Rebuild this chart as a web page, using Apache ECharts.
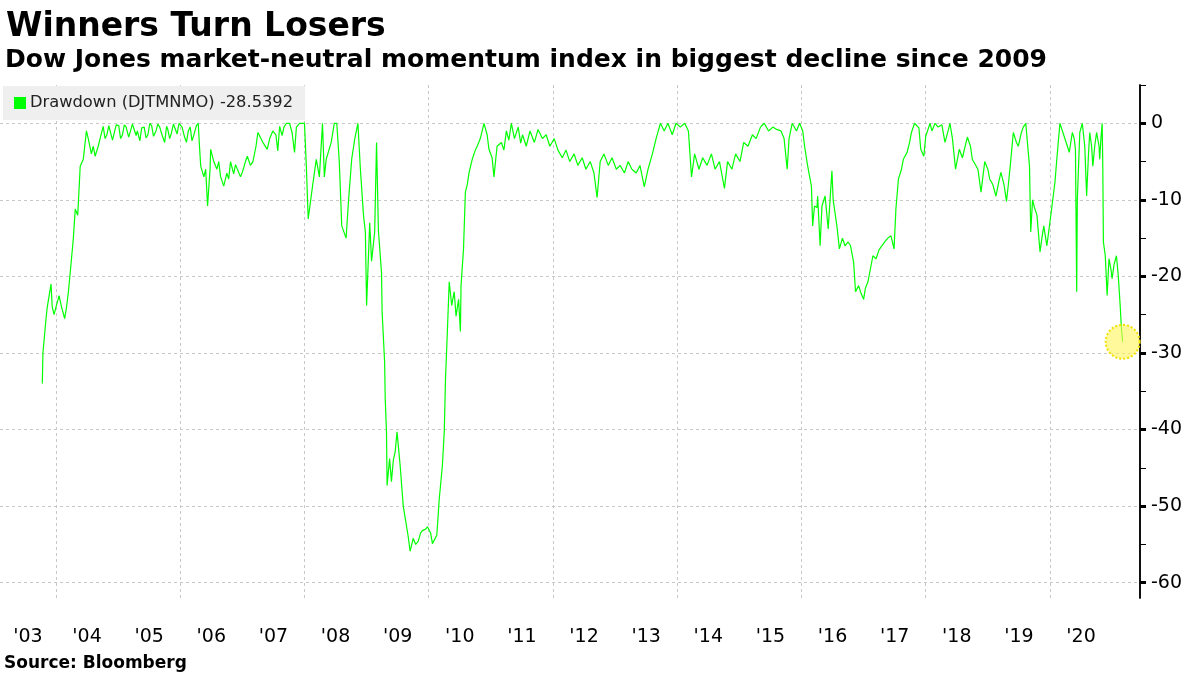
<!DOCTYPE html>
<html>
<head>
<meta charset="utf-8">
<script src="https://cdn.jsdelivr.net/npm/echarts@6/dist/echarts.min.js"></script>
<style>
html,body{margin:0;padding:0;background:#ffffff;}
#chart{width:1200px;height:675px;}
</style>
</head>
<body>
<div id="chart"></div>
<script>
// ---- text ----
const titleText = 'Winners Turn Losers';
const subtitleText = 'Dow Jones market-neutral momentum index in biggest decline since 2009';
const sourceText = 'Source: Bloomberg';
const seriesName = 'Drawdown (DJTMNMO)';
const lastValueText = '-28.5392';

// ---- axes ----
const xMin = 2003.099;
const xMax = 2021.449;
const labelYears = [2003,2004,2005,2006,2007,2008,2009,2010,2011,2012,2013,2014,2015,2016,2017,2018,2019,2020];
const gridYears = [2004,2006,2008,2010,2012,2014,2016,2018,2020];
const yMin = -62, yMax = 5;
const yMajorTicks = [0,-10,-20,-30,-40,-50,-60];
const yMinorTicks = [5,-5,-15,-25,-35,-45,-55];

// ---- data: [decimal year, drawdown %] ----
const drawdown = [
[2003.78,-34],[2003.79,-30],[2003.84,-25.5],[2003.86,-24],[2003.92,-21],[2003.94,-24],[2003.97,-25],
[2004.00,-24],[2004.05,-22.5],[2004.09,-24],[2004.14,-25.5],[2004.17,-24],[2004.20,-22],[2004.25,-17.7],[2004.28,-15],[2004.31,-11.2],[2004.35,-12],[2004.39,-5.6],[2004.44,-4.7],[2004.49,-1],[2004.52,-2],[2004.57,-4],[2004.60,-3],[2004.63,-4.3],[2004.68,-3],[2004.71,-2],[2004.76,-0.4],[2004.79,-2],[2004.82,-1.5],[2004.85,-0.3],[2004.88,-0.5],[2004.91,-2.2],[2004.94,-1.2],[2004.97,-0.2],
[2005.01,-0.3],[2005.04,-2],[2005.07,-1.5],[2005.10,-0.2],[2005.13,-0.5],[2005.17,-1.8],[2005.20,-1],[2005.23,-0.1],[2005.26,-0.2],[2005.29,-1.6],[2005.31,-1],[2005.35,-2.3],[2005.38,-0.6],[2005.42,-0.5],[2005.45,-1.9],[2005.48,-1.5],[2005.51,0],[2005.54,-0.3],[2005.57,-1.7],[2005.61,-1],[2005.64,-0.1],[2005.67,-0.5],[2005.71,-1.6],[2005.75,-2.5],[2005.78,-0.4],[2005.80,-0.8],[2005.83,-2],[2005.86,-1.2],[2005.89,-0.1],[2005.92,-0.3],[2005.95,-1.4],[2005.98,0],
[2006.03,-0.5],[2006.07,-1.8],[2006.10,-2.5],[2006.13,-1],[2006.16,-0.5],[2006.19,-2.3],[2006.22,-1.5],[2006.26,-0.3],[2006.29,0],[2006.31,-3],[2006.33,-5.6],[2006.38,-7],[2006.41,-6],[2006.44,-10.8],[2006.48,-6],[2006.49,-3.4],[2006.54,-5],[2006.59,-6],[2006.62,-5],[2006.65,-7],[2006.70,-8.2],[2006.75,-6.5],[2006.78,-7.3],[2006.81,-5],[2006.86,-6.6],[2006.89,-5.4],[2006.92,-6],[2006.97,-7],
[2007.00,-6.4],[2007.05,-5],[2007.08,-4.3],[2007.13,-5.5],[2007.17,-5],[2007.22,-3],[2007.25,-1.2],[2007.30,-2],[2007.33,-2.5],[2007.40,-3.4],[2007.44,-2],[2007.49,-1],[2007.54,-1.5],[2007.57,-3.6],[2007.60,-0.4],[2007.64,-1.6],[2007.67,-0.5],[2007.71,0],[2007.76,0],[2007.80,-1.2],[2007.84,-3.8],[2007.87,-0.5],[2007.92,0],
[2008.00,0],[2008.03,-5.6],[2008.06,-12.5],[2008.13,-8.2],[2008.19,-4.7],[2008.24,-7],[2008.29,0],[2008.32,-7],[2008.35,-4.7],[2008.43,-2.5],[2008.48,0],[2008.52,0],[2008.56,-5],[2008.60,-13.4],[2008.67,-15],[2008.71,-10],[2008.76,-4.7],[2008.81,-2],[2008.86,0],[2008.90,-6],[2008.95,-12],[2008.98,-14.2],
[2009.00,-23.8],[2009.05,-13],[2009.08,-18],[2009.13,-14.2],[2009.16,-2.5],[2009.19,-14],[2009.24,-19.5],[2009.25,-24.7],[2009.29,-31.2],[2009.30,-36],[2009.32,-40.3],[2009.33,-47.3],[2009.37,-43.8],[2009.40,-46.8],[2009.43,-44],[2009.46,-42.9],[2009.49,-40.3],[2009.54,-44.7],[2009.59,-50],[2009.63,-52],[2009.67,-54],[2009.70,-55.9],[2009.75,-54.2],[2009.79,-55],[2009.83,-54.6],[2009.87,-53.5],[2009.90,-53.2],[2009.95,-53],[2009.98,-52.7],
[2010.03,-53.5],[2010.06,-54.9],[2010.13,-53.8],[2010.17,-49],[2010.22,-44.7],[2010.25,-40.3],[2010.27,-33.4],[2010.30,-27.2],[2010.33,-20.7],[2010.37,-23.8],[2010.41,-22],[2010.44,-25.2],[2010.48,-23],[2010.51,-27.2],[2010.52,-21.2],[2010.56,-16.4],[2010.59,-9],[2010.62,-8],[2010.65,-6.4],[2010.70,-4.7],[2010.75,-3.5],[2010.78,-3],[2010.83,-2],[2010.89,0],[2010.94,-1.5],[2010.97,-3.4],
[2011.02,-4.5],[2011.05,-7],[2011.10,-3],[2011.17,-2.5],[2011.21,-3.5],[2011.25,-1],[2011.29,-2.2],[2011.33,0],[2011.38,-2],[2011.44,-0.5],[2011.48,-2.6],[2011.51,-1.5],[2011.57,-3],[2011.63,-1],[2011.70,-2.5],[2011.76,-0.8],[2011.83,-2],[2011.89,-1.5],[2011.95,-3],
[2012.02,-2],[2012.08,-3.5],[2012.15,-4.5],[2012.21,-3.5],[2012.27,-5],[2012.34,-4],[2012.40,-5.5],[2012.47,-4.5],[2012.53,-6],[2012.60,-5],[2012.66,-6.5],[2012.71,-9.7],[2012.76,-5],[2012.82,-4],[2012.89,-5.5],[2012.95,-4.5],
[2013.02,-6],[2013.08,-5.5],[2013.15,-6.5],[2013.21,-5],[2013.27,-6],[2013.34,-6.5],[2013.40,-5.5],[2013.47,-8.3],[2013.53,-6],[2013.60,-4],[2013.66,-2],[2013.73,0],[2013.79,-1],[2013.85,0],[2013.92,-1.5],[2013.98,0],
[2014.05,-0.5],[2014.12,0],[2014.18,-1],[2014.23,-7],[2014.28,-4],[2014.35,-6],[2014.41,-4.5],[2014.48,-5.5],[2014.55,-4],[2014.61,-6],[2014.68,-5],[2014.76,-8.5],[2014.81,-5],[2014.88,-6],[2014.94,-4],
[2015.01,-5],[2015.07,-2.5],[2015.14,-3],[2015.21,-1.5],[2015.27,-2],[2015.34,-0.5],[2015.40,0],[2015.47,-1],[2015.54,-0.5],[2015.60,-0.8],[2015.67,-1],[2015.72,-2],[2015.77,-6],[2015.80,-2],[2015.85,0],[2015.92,-1],[2015.97,0],
[2016.02,-1],[2016.05,-3],[2016.10,-5.6],[2016.16,-8.2],[2016.18,-13.4],[2016.21,-10.8],[2016.25,-11],[2016.26,-9.5],[2016.30,-16],[2016.33,-10.8],[2016.38,-9.5],[2016.43,-13.8],[2016.46,-10],[2016.49,-6.2],[2016.51,-10],[2016.57,-13.4],[2016.61,-16.4],[2016.66,-15],[2016.70,-16],[2016.75,-15.5],[2016.79,-16],[2016.84,-18.2],[2016.87,-22],[2016.92,-21.2],[2016.95,-22],
[2017.00,-23],[2017.03,-21.5],[2017.07,-20.7],[2017.11,-19],[2017.15,-17.3],[2017.20,-17.7],[2017.25,-16.5],[2017.28,-16.4],[2017.34,-15.5],[2017.39,-15],[2017.44,-14.7],[2017.49,-16.4],[2017.52,-11.2],[2017.56,-7.3],[2017.61,-6],[2017.64,-4.7],[2017.70,-3.8],[2017.74,-2.5],[2017.77,-1.2],[2017.82,0],[2017.89,-0.6],[2017.92,-3.4],[2017.97,-4.3],
[2018.00,-1.7],[2018.07,0],[2018.10,-1],[2018.15,0],[2018.20,-0.5],[2018.26,-0.2],[2018.31,-2.5],[2018.36,-1],[2018.39,0],[2018.43,-2],[2018.48,-6],[2018.54,-3.4],[2018.59,-4.5],[2018.62,-4.3],[2018.67,-1.8],[2018.72,-3],[2018.75,-4.7],[2018.84,-6],[2018.89,-9],[2018.95,-5],
[2019.00,-6],[2019.03,-7.3],[2019.08,-8],[2019.13,-9.5],[2019.18,-7.5],[2019.21,-6.4],[2019.26,-8],[2019.30,-10.2],[2019.33,-8],[2019.36,-5.6],[2019.41,-1.2],[2019.46,-2.5],[2019.49,-3],[2019.54,-1.2],[2019.57,-0.5],[2019.61,0],[2019.64,0],[2019.67,-5.6],[2019.69,-14.2],[2019.72,-10],[2019.75,-11],[2019.79,-12],[2019.84,-16.8],[2019.87,-15],[2019.90,-13.4],[2019.95,-16],
[2020.02,-11.6],[2020.08,-7.7],[2020.11,-4.7],[2020.16,0],[2020.20,-1],[2020.23,-1.2],[2020.28,-3],[2020.31,-3.8],[2020.36,-1.2],[2020.39,-2],[2020.41,-3.4],[2020.43,-22],[2020.44,-10],[2020.48,-1.2],[2020.52,0],[2020.56,-3],[2020.59,-9.5],[2020.62,-4],[2020.64,-1.2],[2020.67,-3],[2020.69,-5.6],[2020.72,-3],[2020.75,-1.2],[2020.79,-3],[2020.80,-4.7],[2020.82,-2],[2020.84,0],[2020.85,-5.6],[2020.86,-15.5],[2020.89,-17.3],[2020.92,-22.5],[2020.95,-17.7],[2020.98,-19],
[2021.00,-20.3],[2021.03,-18.5],[2021.07,-17.3],[2021.10,-20],[2021.13,-23.8],[2021.15,-26.8],[2021.17,-28.5392]
];

const lastPoint = drawdown[drawdown.length - 1];
const labelPositions = labelYears.map(y => y === 2003 ? (xMin + 2004) / 2 : y + 0.5);

const FONT = 'DejaVu Sans';
const chart = echarts.init(document.getElementById('chart'), null, {renderer: 'canvas'});

chart.setOption({
  animation: false,
  backgroundColor: '#ffffff',
  title: [
    {text: titleText, left: 1, top: 6, textStyle: {fontFamily: FONT, fontWeight: 'bold', fontSize: 33, color: '#000'}},
    {text: subtitleText, left: 0, top: 43, textStyle: {fontFamily: FONT, fontWeight: 'bold', fontSize: 25, color: '#000'}},
    {text: sourceText, left: 4, top: 655, padding: 0, textStyle: {fontFamily: FONT, fontWeight: 'bold', fontSize: 17, color: '#000'}}
  ],
  legend: {
    left: 3, top: 86,
    backgroundColor: '#efefef',
    padding: [9, 12, 9, 11],
    icon: 'rect', itemWidth: 12, itemHeight: 12, itemGap: 5,
    textStyle: {fontFamily: FONT, fontSize: 16.3, color: '#222', padding: [0,0,0,-1]},
    formatter: name => name + ' ' + lastValueText,
    data: [seriesName]
  },
  grid: {left: 0, right: 60, top: 85, bottom: 77, containLabel: false},
  xAxis: {
    type: 'value', min: xMin, max: xMax,
    axisLine: {show: false},
    axisTick: {show: false, customValues: gridYears},
    axisLabel: {
      customValues: labelPositions, margin: 30,
      fontFamily: FONT, fontSize: 19, color: '#000',
      formatter: v => "'" + String(Math.floor(v)).slice(2)
    },
    splitLine: {show: true, lineStyle: {color: '#c8c8c8', type: [3, 3], width: 1}}
  },
  yAxis: [
    {
      type: 'value', position: 'right', min: yMin, max: yMax,
      axisLine: {show: true, lineStyle: {color: '#000', width: 1.5}},
      axisTick: {show: true, customValues: yMajorTicks, length: 6, inside: false, lineStyle: {color: '#000', width: 3}},
      axisLabel: {customValues: yMajorTicks, margin: 11, fontFamily: FONT, fontSize: 19, color: '#000'},
      splitLine: {show: true, lineStyle: {color: '#c8c8c8', type: [3, 3], width: 1}}
    },
    {
      type: 'value', position: 'right', offset: 0, min: yMin, max: yMax,
      axisLine: {show: true, lineStyle: {color: '#000', width: 1.5}},
      axisTick: {show: true, customValues: yMinorTicks, length: 6, inside: false, lineStyle: {color: '#000', width: 1}},
      axisLabel: {show: false},
      splitLine: {show: false}
    }
  ],
  series: [{
    name: seriesName,
    type: 'line',
    data: drawdown,
    yAxisIndex: 0,
    showSymbol: false,
    symbol: 'none',
    lineStyle: {color: '#00ff00', width: 1.2},
    itemStyle: {color: '#00ff00'},
    markPoint: {
      silent: true,
      symbol: 'circle',
      symbolSize: 34,
      label: {show: false},
      itemStyle: {color: 'rgba(255,245,90,0.6)', borderColor: '#f2e100', borderWidth: 2, borderType: 'dotted'},
      data: [{coord: lastPoint}]
    }
  }]
});
</script>
</body>
</html>
